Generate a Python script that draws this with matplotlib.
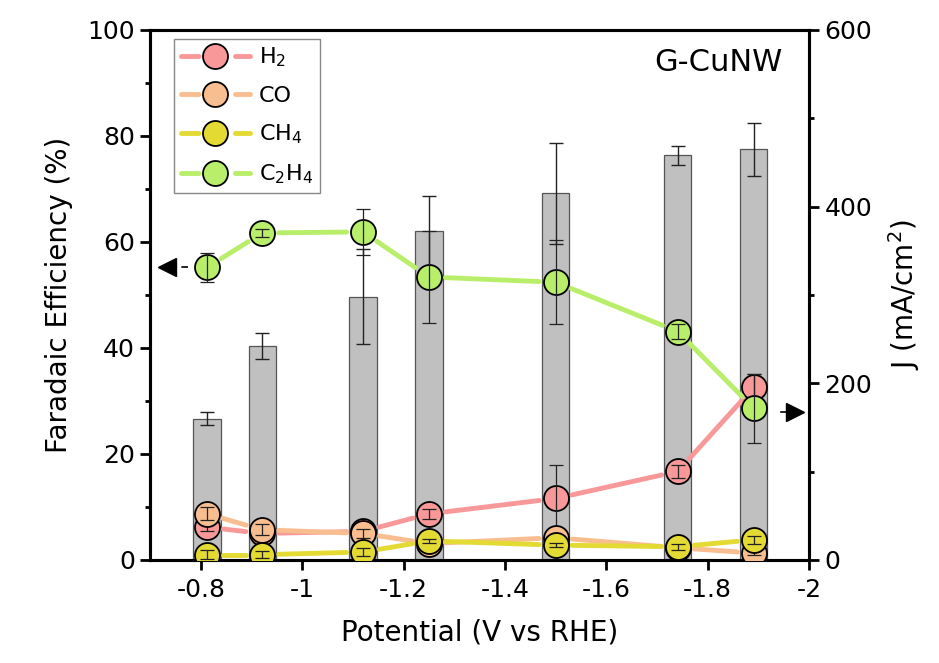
import numpy as np
import matplotlib.pyplot as plt
from matplotlib.lines import Line2D
from matplotlib.ticker import MultipleLocator, FuncFormatter
from matplotlib.legend_handler import HandlerTuple

plt.rcParams['font.family'] = ['DejaVu Sans']
plt.rcParams['axes.unicode_minus'] = False
plt.rcParams['mathtext.fontset'] = 'dejavusans'

# data
potential = [-0.812, -0.921, -1.12, -1.25, -1.50, -1.741, -1.891]
current = [160, 242, 298, 372, 415, 458, 465]
current_err = [7, 15, 54, 40, 57, 11, 30]

fe_h2 = [6.2, 5.0, 5.4, 8.7, 11.6, 16.7, 32.6]
fe_co = [8.7, 5.7, 5.0, 3.1, 4.2, 2.3, 1.3]
fe_ch4 = [1.0, 1.0, 1.5, 3.6, 2.8, 2.5, 3.8]
fe_c2h4 = [55.2, 61.7, 61.9, 53.4, 52.4, 43.1, 28.6]
err_h2 = [0.8, 0.5, 0.8, 1.0, 6.3, 1.2, 2.5]
err_co = [1.2, 1.0, 0.8, 0.5, 0.5, 0.5, 0.3]
err_ch4 = [0.8, 0.6, 0.8, 0.4, 0.4, 0.6, 0.8]
err_c2h4 = [2.7, 0.8, 4.3, 8.7, 7.9, 1.5, 6.5]

labels = ['H$_2$', 'CO', 'CH$_4$', 'C$_2$H$_4$']
colors = ['#F99898', '#F9BE8F', '#E3DA33', '#B9EE6B']
series = [fe_h2, fe_co, fe_ch4, fe_c2h4]
errors = [err_h2, err_co, err_ch4, err_c2h4]

fig, ax = plt.subplots(figsize=(9.39, 6.63), dpi=100)
fig.subplots_adjust(left=0.16, right=0.8616, top=0.9548, bottom=0.1554)
ax2 = ax.twinx()

# current density bars on the right axis
ax2.bar(potential, current, width=0.054, yerr=current_err, color='#C0C0C0',
        edgecolor='#555555', linewidth=0.9,
        error_kw=dict(ecolor='#222222', elinewidth=1.0, capsize=5, capthick=1.0))
ax2.set_ylim(0, 600)
ax2.yaxis.set_major_locator(MultipleLocator(200))
ax2.yaxis.set_minor_locator(MultipleLocator(100))
ax2.tick_params(axis='y', which='major', direction='out', length=7, width=2, labelsize=18, pad=4)
ax2.tick_params(axis='y', which='minor', direction='out', length=3.5, width=2)
ax2.set_ylabel('J (mA/cm$^2$)', fontsize=20, labelpad=10)

ax.set_zorder(ax2.get_zorder() + 1)
ax.patch.set_visible(False)

ax.set_xlim(-0.7, -2.0)
ax.set_ylim(0, 100)

# connecting lines stop a little short of each symbol
ms = 18
gap = ms / 72 * fig.dpi / 2 + 4
handles = []
for i in range(4):
    pts = ax.transData.transform(np.column_stack([potential, series[i]]))
    for p0, p1 in zip(pts[:-1], pts[1:]):
        d = p1 - p0
        L = np.hypot(d[0], d[1])
        if L <= 2 * gap:
            continue
        u = d / L
        seg = ax.transData.inverted().transform([p0 + u * gap, p1 - u * gap])
        ax.plot(seg[:, 0], seg[:, 1], color=colors[i], lw=3.5,
                solid_capstyle='round', zorder=3 + i)
    ax.plot(potential, series[i], ls='none', marker='o', ms=ms, mfc=colors[i],
            mec='black', mew=1.3, zorder=3 + i)
    ax.errorbar(potential, series[i], yerr=errors[i], fmt='none', ecolor='#222222',
                elinewidth=0.9, capsize=5, capthick=0.9, zorder=3.5 + i)
    line_h = Line2D([], [], color=colors[i], lw=3.5, dashes=(3.6, 7.5), dash_capstyle='round')
    dot_h = Line2D([], [], ls='none', marker='o', ms=ms, mfc=colors[i], mec='black', mew=1.3)
    handles.append((line_h, dot_h))

# arrows showing which axis each group belongs to
ax.plot([-0.775, -0.745], [fe_c2h4[0], fe_c2h4[0]], color='black', lw=1.2, ls=(0, (4, 4)), zorder=2)
ax.plot([-0.733], [fe_c2h4[0]], marker='<', ms=13, color='black', ls='none', zorder=2)
ax.plot([-1.945, -1.958], [27.9, 27.9], color='black', lw=1.2, zorder=2)
ax.plot([-1.972], [27.9], marker='>', ms=13, color='black', ls='none', zorder=2)

ax.set_xticks([-0.8, -1.0, -1.2, -1.4, -1.6, -1.8, -2.0])
ax.xaxis.set_major_formatter(FuncFormatter(lambda v, p: '%g' % v))
ax.yaxis.set_major_locator(MultipleLocator(20))
ax.yaxis.set_minor_locator(MultipleLocator(10))
ax.tick_params(axis='x', direction='out', length=7, width=2, labelsize=18, pad=6)
ax.tick_params(axis='y', which='major', direction='out', length=7, width=2, labelsize=18, pad=4)
ax.tick_params(axis='y', which='minor', direction='out', length=3.5, width=2)
ax.set_xlabel('Potential (V vs RHE)', fontsize=20, labelpad=12)
ax.set_ylabel('Faradaic Efficiency (%)', fontsize=20, labelpad=10)

for a in (ax, ax2):
    for s in a.spines.values():
        s.set_linewidth(2.2)

ax.text(0.96, 0.938, 'G-CuNW', transform=ax.transAxes, ha='right', va='center', fontsize=22)

leg = ax.legend(handles, labels, loc='upper left', bbox_to_anchor=(0.0365, 0.983),
                borderaxespad=0, fontsize=16, handlelength=3.1, handletextpad=0.4,
                labelspacing=0.75, fancybox=False, framealpha=1, edgecolor='#888888',
                borderpad=0.3, handler_map={tuple: HandlerTuple(ndivide=1)})
leg.get_frame().set_linewidth(1.0)
leg.set_zorder(20)

fig.savefig('out.png', dpi=100)
